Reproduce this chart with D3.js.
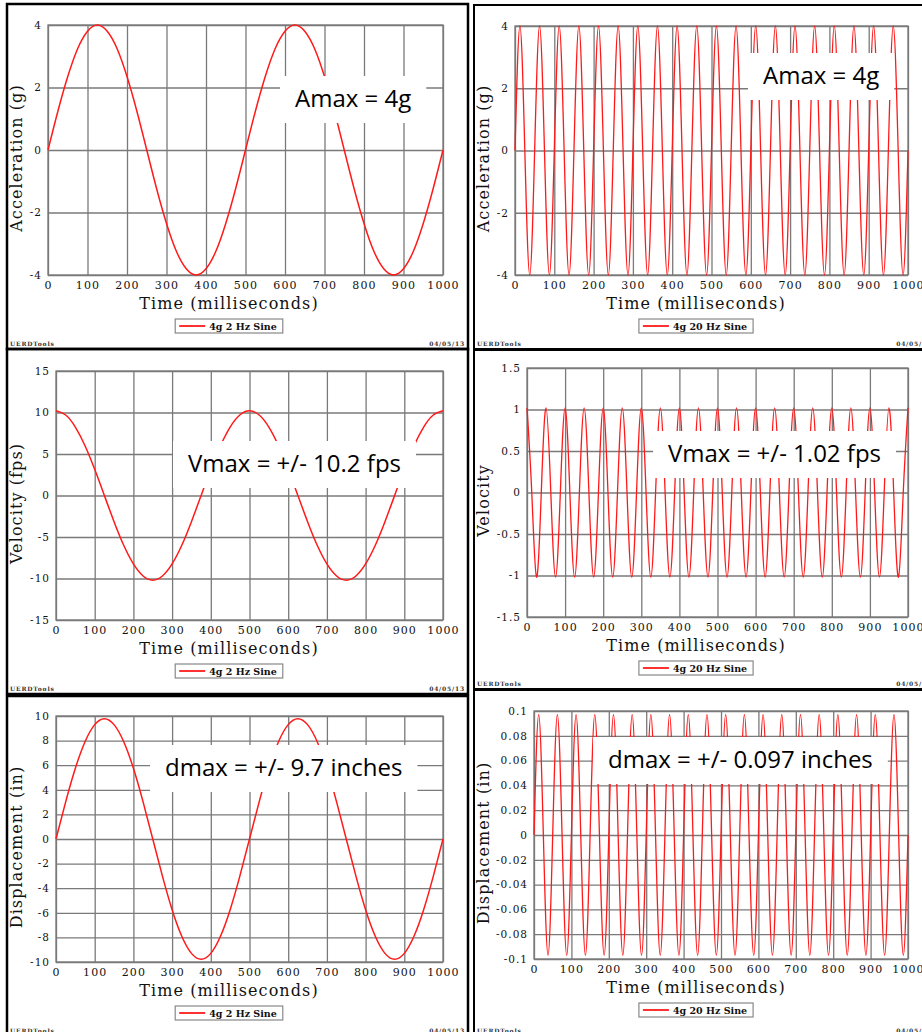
<!DOCTYPE html>
<html><head><meta charset="utf-8">
<script src="https://cdn.jsdelivr.net/npm/d3@7"></script>
<style>body{margin:0;background:#fff}svg{display:block}</style>
</head><body>
<svg id="chart" width="922" height="1032"></svg>
<script>
// ---------------- DATA ----------------
const timeTicks = [0,100,200,300,400,500,600,700,800,900,1000];

const time2Hz = [0,25,50,75,100,125,150,175,200,225,250,275,300,325,350,375,400,425,450,475,500,
  525,550,575,600,625,650,675,700,725,750,775,800,825,850,875,900,925,950,975,1000];
const accel2Hz = [0,1.24,2.35,3.24,3.80,4,3.80,3.24,2.35,1.24,0,-1.24,-2.35,-3.24,-3.80,-4,-3.80,-3.24,-2.35,-1.24,
  0,1.24,2.35,3.24,3.80,4,3.80,3.24,2.35,1.24,0,-1.24,-2.35,-3.24,-3.80,-4,-3.80,-3.24,-2.35,-1.24,0];
const velocity2Hz = [10.2,9.70,8.25,6.00,3.15,0,-3.15,-6.00,-8.25,-9.70,-10.2,-9.70,-8.25,-6.00,-3.15,0,3.15,6.00,8.25,9.70,
  10.2,9.70,8.25,6.00,3.15,0,-3.15,-6.00,-8.25,-9.70,-10.2,-9.70,-8.25,-6.00,-3.15,0,3.15,6.00,8.25,9.70,10.2];
const displacement2Hz = [0,3.02,5.75,7.91,9.30,9.78,9.30,7.91,5.75,3.02,0,-3.02,-5.75,-7.91,-9.30,-9.78,-9.30,-7.91,-5.75,-3.02,
  0,3.02,5.75,7.91,9.30,9.78,9.30,7.91,5.75,3.02,0,-3.02,-5.75,-7.91,-9.30,-9.78,-9.30,-7.91,-5.75,-3.02,0];

const time20Hz = [0,12.5,25,37.5,50,62.5,75,87.5,100,112.5,125,137.5,150,162.5,175,187.5,200,212.5,225,237.5,
  250,262.5,275,287.5,300,312.5,325,337.5,350,362.5,375,387.5,400,412.5,425,437.5,450,462.5,475,487.5,
  500,512.5,525,537.5,550,562.5,575,587.5,600,612.5,625,637.5,650,662.5,675,687.5,700,712.5,725,737.5,
  750,762.5,775,787.5,800,812.5,825,837.5,850,862.5,875,887.5,900,912.5,925,937.5,950,962.5,975,987.5,1000];
const accel20Hz = [0,4,0,-4,0,4,0,-4,0,4,0,-4,0,4,0,-4,0,4,0,-4,
  0,4,0,-4,0,4,0,-4,0,4,0,-4,0,4,0,-4,0,4,0,-4,
  0,4,0,-4,0,4,0,-4,0,4,0,-4,0,4,0,-4,0,4,0,-4,
  0,4,0,-4,0,4,0,-4,0,4,0,-4,0,4,0,-4,0,4,0,-4,0];
const velocity20Hz = [1.02,0,-1.02,0,1.02,0,-1.02,0,1.02,0,-1.02,0,1.02,0,-1.02,0,1.02,0,-1.02,0,
  1.02,0,-1.02,0,1.02,0,-1.02,0,1.02,0,-1.02,0,1.02,0,-1.02,0,1.02,0,-1.02,0,
  1.02,0,-1.02,0,1.02,0,-1.02,0,1.02,0,-1.02,0,1.02,0,-1.02,0,1.02,0,-1.02,0,
  1.02,0,-1.02,0,1.02,0,-1.02,0,1.02,0,-1.02,0,1.02,0,-1.02,0,1.02,0,-1.02,0,1.02];
const displacement20Hz = [0,0.097,0,-0.097,0,0.097,0,-0.097,0,0.097,0,-0.097,0,0.097,0,-0.097,0,0.097,0,-0.097,
  0,0.097,0,-0.097,0,0.097,0,-0.097,0,0.097,0,-0.097,0,0.097,0,-0.097,0,0.097,0,-0.097,
  0,0.097,0,-0.097,0,0.097,0,-0.097,0,0.097,0,-0.097,0,0.097,0,-0.097,0,0.097,0,-0.097,
  0,0.097,0,-0.097,0,0.097,0,-0.097,0,0.097,0,-0.097,0,0.097,0,-0.097,0,0.097,0,-0.097,0];

const accelTicks = [-4,-2,0,2,4];
const velocity2HzTicks = [-15,-10,-5,0,5,10,15];
const velocity20HzTicks = [-1.5,-1,-0.5,0,0.5,1,1.5];
const displacement2HzTicks = [-10,-8,-6,-4,-2,0,2,4,6,8,10];
const displacement20HzTicks = [-0.1,-0.08,-0.06,-0.04,-0.02,0,0.02,0.04,0.06,0.08,0.1];

const yTitles = ["Acceleration (g)","Acceleration (g)","Velocity (fps)","Velocity","Displacement (in)","Displacement (in)"];
const xTitle = "Time (milliseconds)";
const legendLabels = ["4g 2 Hz Sine","4g 20 Hz Sine"];
const notes = ["Amax = 4g","Amax = 4g","Vmax = +/- 10.2 fps","Vmax = +/- 1.02 fps","dmax = +/- 9.7 inches","dmax = +/- 0.097 inches"];
const footerLeft = "UERDTools";
const footerRight = "04/05/13";

// ---------------- LAYOUT ----------------
const panels = [
  {frame:[7,468,4,349], plot:[48,443,25,275], note:[280,76], yt:17, t:time2Hz, v:accel2Hz, ticks:accelTicks, leg:0, bw:2.5},
  {frame:[474,935,5,349], plot:[515,908,26,275], note:[748,53], yt:484, t:time20Hz, v:accel20Hz, ticks:accelTicks, leg:1, bw:2},
  {frame:[7,468,349,694], plot:[56,443,371,620], note:[173,441], yt:17, t:time2Hz, v:velocity2Hz, ticks:velocity2HzTicks, leg:0, bw:2.5},
  {frame:[474,935,350,689], plot:[527,908,368,617], note:[653,431], yt:484, t:time20Hz, v:velocity20Hz, ticks:velocity20HzTicks, leg:1, bw:2},
  {frame:[7,468,696,1036], plot:[56,443,716,962], note:[150,745], yt:17, t:time2Hz, v:displacement2Hz, ticks:displacement2HzTicks, leg:0, bw:2.5},
  {frame:[474,935,690,1036], plot:[534,908,711,959], note:[593,737], yt:484, t:time20Hz, v:displacement20Hz, ticks:displacement20HzTicks, leg:1, bw:2}
];

const svg = d3.select("#chart");
svg.append("rect").attr("width",922).attr("height",1032).attr("fill","#fff");
const serif = "'DejaVu Serif', 'Liberation Serif', serif";
const gridColor = "#7a7a7a";
const fmt = d => String(Math.round(d*100)/100);

panels.forEach((p,i) => {
  const [fx0,fx1,fy0,fy1] = p.frame;
  const [pl,pr,pt,pb] = p.plot;
  const g = svg.append("g");
  const x = d3.scaleLinear().domain([0,1000]).range([pl,pr]);
  const y = d3.scaleLinear().domain(d3.extent(p.ticks)).range([pb,pt]);

  // x axis + vertical grid
  const xa = g.append("g").attr("transform",`translate(0,${pb})`)
    .call(d3.axisBottom(x).tickValues(timeTicks).tickSize(-(pb-pt)).tickPadding(6).tickFormat(fmt));
  xa.select(".domain").remove();
  xa.selectAll("line").attr("stroke",gridColor).attr("stroke-width",1.3);
  xa.selectAll("text").attr("font-family",serif).attr("font-size",11).attr("letter-spacing",1.1).attr("fill","#111");

  // y axis + horizontal grid
  const ya = g.append("g").attr("transform",`translate(${pl},0)`)
    .call(d3.axisLeft(y).tickValues(p.ticks).tickSize(-(pr-pl)).tickPadding(6).tickFormat(fmt));
  ya.select(".domain").remove();
  ya.selectAll("line").attr("stroke",gridColor).attr("stroke-width",1.3);
  ya.selectAll("text").attr("font-family",serif).attr("font-size",10.5).attr("letter-spacing",1).attr("fill","#111");

  // plot frame
  g.append("rect").attr("x",pl).attr("y",pt).attr("width",pr-pl).attr("height",pb-pt)
    .attr("fill","none").attr("stroke",gridColor).attr("stroke-width",1.3);

  // curve
  const pts = p.t.map((t,k)=>[t,p.v[k]]);
  g.append("path").datum(pts)
    .attr("d", d3.line().x(d=>x(d[0])).y(d=>y(d[1])).curve(d3.curveNatural))
    .attr("fill","none").attr("stroke","#ff1a1a").attr("stroke-width", p.leg ? 1.3 : 1.5);

  // axis titles
  const cx = fx0 + 222;
  g.append("text").attr("x",cx).attr("y",pb+34).attr("text-anchor","middle")
    .attr("font-family",serif).attr("font-size",16).attr("letter-spacing",1.1).attr("fill","#111").text(xTitle);
  const yc = (pt+pb)/2 + 8;
  g.append("text").attr("transform",`translate(${p.yt+5},${yc}) rotate(-90)`).attr("text-anchor","middle")
    .attr("font-family",serif).attr("font-size",16).attr("letter-spacing",1.1).attr("fill","#111").text(yTitles[i]);

  // legend
  const lg = g.append("g");
  const lt = lg.append("text").attr("x",0).attr("y",0).attr("font-family",serif).attr("font-weight","bold")
    .attr("font-size",9.5).attr("fill","#111").text(legendLabels[p.leg]);
  const tw = lt.node().getComputedTextLength();
  const bwid = 4+26+4+tw+6;
  const bx = cx - bwid/2, by = pb+44;
  lg.insert("rect","text").attr("x",bx).attr("y",by).attr("width",bwid).attr("height",14)
    .attr("fill","#fff").attr("stroke","#888").attr("stroke-width",1.2);
  lg.append("line").attr("x1",bx+4).attr("x2",bx+30).attr("y1",by+7).attr("y2",by+7)
    .attr("stroke","#ff1a1a").attr("stroke-width",1.8);
  lt.attr("x",bx+34).attr("y",by+10.5);

  // footer
  g.append("text").attr("x",fx0+3).attr("y",fy1-3.5).attr("font-family",serif).attr("font-weight","bold")
    .attr("font-size",6).attr("letter-spacing",0.8).attr("fill","#333").text(footerLeft);
  g.append("text").attr("x",fx1-3).attr("y",fy1-3.5).attr("text-anchor","end").attr("font-family",serif).attr("font-weight","bold")
    .attr("font-size",6).attr("letter-spacing",0.8).attr("fill","#333").text(footerRight);

  // frame
  g.append("rect").attr("x",fx0).attr("y",fy0).attr("width",fx1-fx0).attr("height",fy1-fy0)
    .attr("fill","none").attr("stroke","#000").attr("stroke-width",p.bw);

  // annotation box
  const ng = g.append("g");
  const nt = ng.append("text").attr("x",p.note[0]+15).attr("y",p.note[1]+31)
    .attr("font-family","'Open Sans', 'Noto Sans', sans-serif").attr("font-size",24).attr("fill","#000").text(notes[i]);
  const nw = nt.node().getComputedTextLength();
  ng.insert("rect","text").attr("x",p.note[0]).attr("y",p.note[1]).attr("width",nw+30).attr("height",47).attr("fill","#fff");
});
</script>
</body></html>
